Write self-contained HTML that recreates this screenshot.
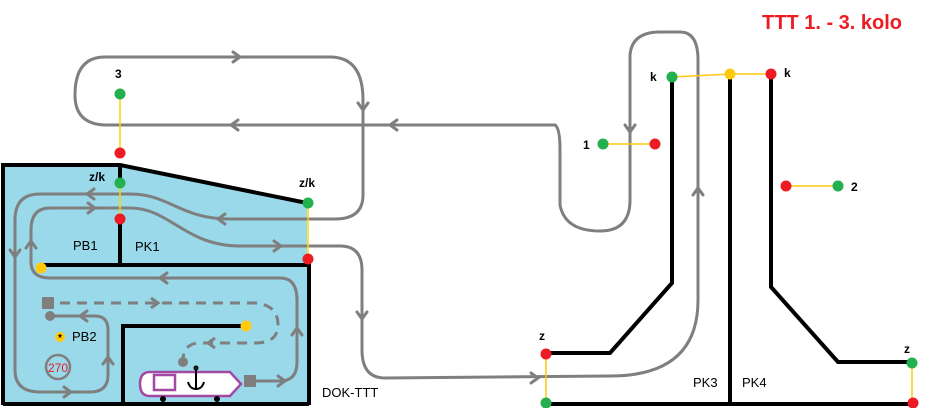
<!DOCTYPE html>
<html><head><meta charset="utf-8"><style>body{margin:0;background:#fff}svg{display:block}text{font-family:"Liberation Sans",sans-serif;font-weight:bold;fill:#000}text.n{font-weight:normal}</style></head><body>
<svg width="927" height="408" viewBox="0 0 927 408" xmlns="http://www.w3.org/2000/svg">
<polygon points="3,165 120,165 307,203 307,265 309,265 309,405 3,405" fill="#99d9ea"/>
<g fill="none" stroke="#7f7f7f" stroke-width="3" stroke-linecap="round">
<path d="M555,125 L105,125 Q75,124 75,95 Q75,57 105,57 L330,57 Q363,57 363,100 L363,195 Q363,219 335,219 L230,219 C180,219 170,194 130,194 L40,194 Q15,194 15,220 L15,370 Q15,392 40,392 L90,392 Q108,392 108,375 L108,330 Q108,316 95,316 L52,316"/>
<path d="M555,125 Q560,128 560,150 L560,205 Q565,231 600,231 Q630,231 630,200 L630,55 Q632,32 660,32 L680,32 Q698,32 698,60 L698,300 Q698,376 610,376 L385,378 Q362,378 362,350 L362,270 Q362,246 340,246 L240,246 C185,246 170,208 130,208 L50,208 Q31,208 31,230 L31,262 Q31,278 50,278 L280,278 Q297,278 297,300 L297,362 Q297,381 280,381 L256,381"/>
<polyline points="233,52 240,57 233,62"/>
<polyline points="238,120 231,125 238,130"/>
<polyline points="397,120 390,125 397,130"/>
<polyline points="358,103 363,110 368,103"/>
<polyline points="625,125 630,132 635,125"/>
<polyline points="693,195 698,188 703,195"/>
<polyline points="531,373 538,378 531,383"/>
<polyline points="357,312 362,319 367,312"/>
<polyline points="274,241 281,246 274,251"/>
<polyline points="225,214 218,219 225,224"/>
<polyline points="94,189 87,194 94,199"/>
<polyline points="88,203 95,208 88,213"/>
<polyline points="10,250 15,257 20,250"/>
<polyline points="26,248 31,241 36,248"/>
<polyline points="167,273 160,278 167,283"/>
<polyline points="103,364 108,357 113,364"/>
<polyline points="64,387 71,392 64,397"/>
<polyline points="87,311 80,316 87,321"/>
<polyline points="292,335 297,328 302,335"/>
<polyline points="278,376 285,381 278,386"/>
</g>
<g fill="none" stroke="#7f7f7f" stroke-width="3" stroke-dasharray="10,7">
<path d="M60,303 L255,303 Q278,305 278,325 Q278,343 255,343 L200,343 Q185,343 183,358"/>
</g>
<g fill="none" stroke="#7f7f7f" stroke-width="3"><polyline points="151,298 158,303 151,308"/><polyline points="215,338 208,343 215,348"/></g>
<rect x="42" y="297" width="12" height="12" fill="#7f7f7f"/>
<circle cx="50" cy="316" r="5" fill="#7f7f7f"/>
<circle cx="183" cy="362" r="5" fill="#7f7f7f"/>
<rect x="244" y="375" width="12" height="12" fill="#7f7f7f"/>
<path d="M150,372 L230,372 L241,384 L230,396 L150,396 Q140,396 140,384 Q140,372 150,372Z" fill="#fff" stroke="#a349a4" stroke-width="2.5"/>
<rect x="154" y="375" width="21" height="15" fill="none" stroke="#a349a4" stroke-width="2.5"/>
<g stroke="#000" stroke-width="2" fill="none"><line x1="196" y1="370" x2="196" y2="389"/><path d="M188,382 Q190,389 196,389 Q202,389 204,382"/><circle cx="196" cy="368" r="1.5"/></g>
<circle cx="163" cy="399" r="3" fill="#000"/><circle cx="217" cy="399" r="3" fill="#000"/>
<circle cx="58" cy="367" r="12" fill="none" stroke="#7f7f7f" stroke-width="2.5"/>
<text class="n" x="58" y="372" font-size="12" text-anchor="middle" style="fill:#ed1c24">270</text>
<circle cx="60" cy="337" r="5" fill="#ffc90e"/><text x="60" y="341" font-size="10" text-anchor="middle">*</text>
<g stroke="#000" stroke-width="4" fill="none">
<polyline points="3,405 3,165 120,165 307,203"/>
<line x1="120" y1="165" x2="120" y2="183"/>
<line x1="120" y1="218" x2="120" y2="265"/>
<polyline points="40,265 309,265 309,405"/>
<line x1="3" y1="404" x2="309" y2="404"/>
<polyline points="246,326 123,326 123,404"/>
<polyline points="672,77 672,283 610,353 546,353"/>
<line x1="730" y1="74" x2="730" y2="404"/>
<polyline points="771,74 771,287 838,362 912,362"/>
<line x1="546" y1="404" x2="912" y2="404"/>
</g>
<g stroke="#ffc90e" stroke-width="1.5">
<line x1="120" y1="96" x2="120" y2="153" stroke="#f5d800"/>
<line x1="120" y1="183" x2="120" y2="218" stroke="#f5d800"/>
<line x1="308" y1="203" x2="308" y2="260" stroke="#f5d800"/>
<line x1="672" y1="77" x2="730" y2="74"/><line x1="730" y1="74" x2="771" y2="74"/>
<line x1="603" y1="144" x2="655" y2="144"/>
<line x1="786" y1="186" x2="838" y2="186"/>
<line x1="546" y1="353" x2="546" y2="403"/>
<line x1="912" y1="362" x2="912" y2="403"/>
</g>
<g fill="#22b14c"><circle cx="120" cy="94" r="5.5"/><circle cx="120" cy="183" r="5.5"/><circle cx="308" cy="203" r="5.5"/><circle cx="672" cy="77" r="5.5"/><circle cx="603" cy="144" r="5.5"/><circle cx="838" cy="186" r="5.5"/><circle cx="546" cy="403" r="5.5"/><circle cx="912" cy="363" r="5.5"/></g>
<g fill="#ed1c24"><circle cx="120" cy="153" r="5.5"/><circle cx="120" cy="219" r="5.5"/><circle cx="308" cy="259" r="5.5"/><circle cx="771" cy="74" r="5.5"/><circle cx="655" cy="144" r="5.5"/><circle cx="786" cy="186" r="5.5"/><circle cx="546" cy="354" r="5.5"/><circle cx="913" cy="403" r="5.5"/></g>
<g fill="#ffc90e"><circle cx="41" cy="268" r="5.5"/><circle cx="246" cy="326" r="5.5"/><circle cx="730" cy="74" r="5.5"/></g>
<g font-size="12">
<text x="115" y="78">3</text><text x="89" y="181">z/k</text><text x="299" y="187">z/k</text>
<text x="650" y="81">k</text><text x="784" y="77">k</text><text x="583" y="149">1</text><text x="851" y="191">2</text>
<text x="539" y="340">z</text><text x="904" y="353">z</text>
</g>
<g font-size="13">
<text class="n" x="73" y="250">PB1</text><text class="n" x="135" y="251">PK1</text><text class="n" x="72" y="341">PB2</text>
<text class="n" x="322" y="397">DOK-TTT</text><text class="n" x="693" y="387">PK3</text><text class="n" x="742" y="387">PK4</text>
</g>
<text x="762" y="29" font-size="20" style="fill:#ed1c24">TTT 1. - 3. kolo</text>
</svg>
</body></html>
